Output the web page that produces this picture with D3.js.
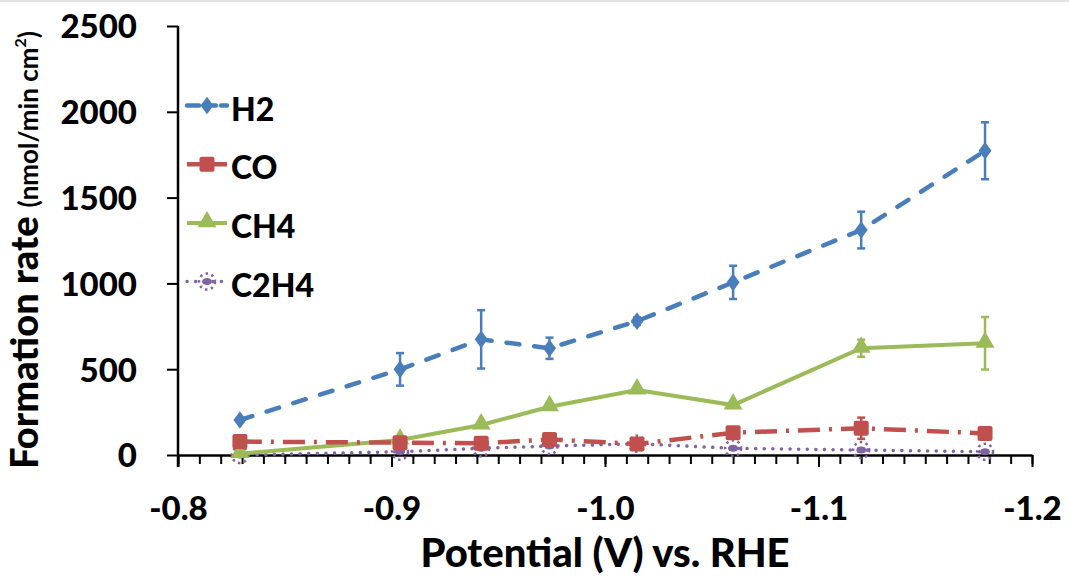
<!DOCTYPE html>
<html>
<head>
<meta charset="utf-8">
<script src="https://cdn.jsdelivr.net/npm/d3@7"></script>
<style>
  html, body { margin: 0; padding: 0; background: #fff; }
  svg text { font-family: Lato, "Open Sans", sans-serif; font-weight: 900; fill: #000; }
</style>
</head>
<body>
<div id="chart"></div>
<script>
// values
var potential = [-0.829, -0.904, -0.942, -0.974, -1.015, -1.060, -1.120, -1.178];
var h2      = [204, 499, 674, 622, 780, 1006, 1311, 1773];
var h2Err   = [10, 95, 170, 62, 22, 97, 107, 166];
var co      = [78, 72, 68, 91, 64, 130, 156, 126];
var coErr   = [12, 10, 10, 12, 10, 15, 62, 18];
var ch4     = [8, 87, 175, 281, 379, 291, 622, 651];
var ch4Err  = [5, 8, 10, 12, 15, 12, 50, 153];
var c2h4    = [0, 19, 39, 52, 66, 39, 29, 19];
var c2h4Err = [3, 5, 5, 8, 8, 8, 8, 6];

var seriesNames = ['H2', 'CO', 'CH4', 'C2H4'];
var xTicks = [-0.8, -0.9, -1.0, -1.1, -1.2];
var yTicks = [0, 500, 1000, 1500, 2000, 2500];

var WIDTH  = 1069,
    HEIGHT = 577,
    X0 = 178, X1 = 1032,
    Y0 = 455, Y1 = 26;

var series = [
  { name: 'H2',   vals: h2,   err: h2Err,   color: '#4a7ebb', dash: '13,15', cap: 'round', width: 4.5, marker: 'diamond' },
  { name: 'CO',   vals: co,   err: coErr,   color: '#c0504d', dash: '22,9,3,9', cap: 'butt', width: 4.5, marker: 'square' },
  { name: 'CH4',  vals: ch4,  err: ch4Err,  color: '#9bbb59', dash: null, cap: 'butt', width: 4, marker: 'triangle' },
  { name: 'C2H4', vals: c2h4, err: c2h4Err, color: '#8064a2', dash: '0.1,8.5', cap: 'round', width: 3.5, marker: 'circle' }
];

var svg = d3.select('#chart').append('svg')
  .attr('width', WIDTH)
  .attr('height', HEIGHT);

// thin grey strip along the top edge
svg.append('rect').attr('x', 0).attr('y', 0).attr('width', WIDTH).attr('height', 2).attr('fill', '#e3e3e3');

var x = d3.scaleLinear().domain([-0.8, -1.2]).range([X0, X1]);
var y = d3.scaleLinear().domain([0, 2500]).range([Y0, Y1]);

// minor x ticks
var minor = d3.range(0, 41).map(function(i){ return -0.8 - i * 0.01; });
svg.append('g')
  .attr('transform', 'translate(0,' + Y0 + ')')
  .call(d3.axisBottom(x).tickValues(minor).tickSize(9).tickFormat(''))
  .call(function(g){
    g.select('.domain').remove();
    g.selectAll('line').attr('stroke', '#000').attr('stroke-width', 2);
  });

// major x axis
var xAxis = svg.append('g')
  .attr('transform', 'translate(0,' + Y0 + ')')
  .call(d3.axisBottom(x).tickValues(xTicks).tickSizeInner(12).tickSizeOuter(0)
    .tickFormat(function(d){ return d.toFixed(1); }));
xAxis.select('.domain').attr('stroke', '#000').attr('stroke-width', 2.5);
xAxis.selectAll('line').attr('stroke', '#000').attr('stroke-width', 2);
xAxis.selectAll('text')
  .attr('y', 65).attr('dy', 0)
  .style('font-size', '33px');

// y axis
var yAxis = svg.append('g')
  .attr('transform', 'translate(' + X0 + ',0)')
  .call(d3.axisLeft(y).tickValues(yTicks).tickSizeInner(11).tickSizeOuter(0)
    .tickFormat(function(d){ return String(d); }));
yAxis.select('.domain').attr('stroke', '#000').attr('stroke-width', 2.5)
  .attr('d', 'M0,' + Y1 + 'V' + (Y0 + 12));
yAxis.selectAll('line').attr('stroke', '#000').attr('stroke-width', 2);
yAxis.selectAll('text')
  .attr('x', -41).attr('dy', '0.36em')
  .style('font-size', '33px');

// axis titles
svg.append('text')
  .attr('x', (X0 + X1) / 2)
  .attr('y', 567)
  .attr('text-anchor', 'middle')
  .style('font-size', '40px')
  .text('Potential (V) vs. RHE');

var yt = svg.append('text')
  .attr('transform', 'translate(38,250) rotate(-90)')
  .attr('text-anchor', 'middle');
yt.append('tspan').style('font-size', '38px').text('Formation rate ');
yt.append('tspan').style('font-size', '26px').style('font-weight', 'bold').text('(nmol/min cm');
yt.append('tspan').style('font-size', '16px').style('font-weight', 'bold').attr('dy', -12).text('2');
yt.append('tspan').style('font-size', '26px').style('font-weight', 'bold').attr('dy', 12).text(')');

function drawMarker(g, type, color, cx, cy) {
  if (type === 'diamond') {
    g.append('path').attr('d', d3.symbol().type(d3.symbolDiamond).size(110)())
      .attr('transform', 'translate(' + cx + ',' + cy + ') scale(1.15,0.9)')
      .attr('fill', color);
  } else if (type === 'square') {
    g.append('rect').attr('x', cx - 7.5).attr('y', cy - 7.5).attr('width', 15).attr('height', 15)
      .attr('rx', 2).attr('fill', color);
  } else if (type === 'triangle') {
    g.append('path').attr('d', d3.symbol().type(d3.symbolTriangle).size(155)())
      .attr('transform', 'translate(' + cx + ',' + (cy - 1) + ')')
      .attr('fill', color);
  } else {
    g.append('ellipse').attr('cx', cx).attr('cy', cy).attr('rx', 5).attr('ry', 3.5).attr('fill', color);
    g.append('circle').attr('cx', cx).attr('cy', cy).attr('r', 8)
      .attr('fill', 'none').attr('stroke', color).attr('stroke-width', 2.5)
      .attr('stroke-dasharray', '2.5,3.5');
  }
}

var line = d3.line()
  .x(function(d){ return x(d[0]); })
  .y(function(d){ return y(d[1]); });

// draw in reverse so H2 sits on top
series.slice().reverse().forEach(function(s){
  var pts = potential.map(function(p, i){ return [p, s.vals[i], s.err[i]]; });
  var g = svg.append('g').attr('class', 'series-' + s.name);

  // error bars
  pts.forEach(function(d){
    var px = x(d[0]), top = y(d[1] + d[2]), bot = y(Math.max(0, d[1] - d[2]));
    g.append('line').attr('x1', px).attr('x2', px).attr('y1', top).attr('y2', bot)
      .attr('stroke', s.color).attr('stroke-width', 2.5);
    [top, bot].forEach(function(yy){
      g.append('line').attr('x1', px - 4).attr('x2', px + 4).attr('y1', yy).attr('y2', yy)
        .attr('stroke', s.color).attr('stroke-width', 2.5);
    });
  });

  g.append('path')
    .datum(pts)
    .attr('d', line)
    .attr('fill', 'none')
    .attr('stroke', s.color)
    .attr('stroke-width', s.width)
    .attr('stroke-linecap', s.cap)
    .attr('stroke-dasharray', s.dash);

  pts.forEach(function(d){ drawMarker(g, s.marker, s.color, x(d[0]), y(d[1])); });
});

// legend
var legend = svg.append('g').attr('class', 'legend');
series.forEach(function(s, i){
  var ly = 105.5 + i * 58.7;
  var lg = legend.append('g');
  lg.append('line').attr('x1', 187).attr('x2', 227).attr('y1', ly).attr('y2', ly)
    .attr('stroke', s.color).attr('stroke-width', s.width)
    .attr('stroke-linecap', s.cap)
    .attr('stroke-dasharray', s.name === 'H2' ? '12,5' : (s.name === 'CO' ? null : s.dash));
  drawMarker(lg, s.marker, s.color, 207, ly);
  lg.append('text').attr('x', 231).attr('y', ly + 15)
    .style('font-size', '32px').text(seriesNames[i]);
});
</script>
</body>
</html>
